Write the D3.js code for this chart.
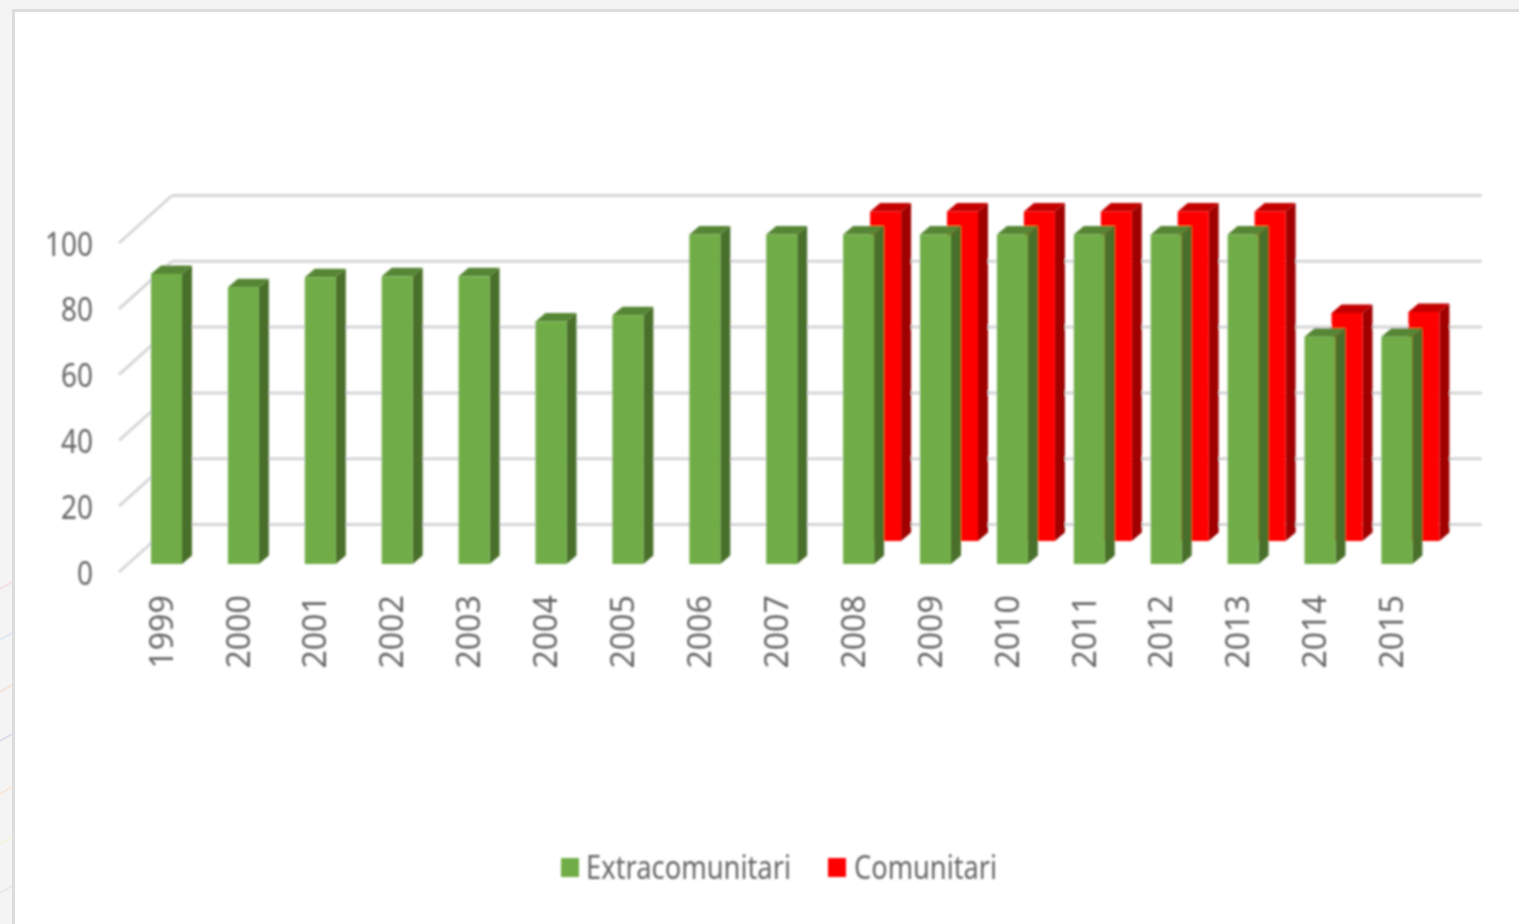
<!DOCTYPE html>
<html>
<head>
<meta charset="utf-8">
<title>Extracomunitari / Comunitari</title>
<script src="https://cdn.jsdelivr.net/npm/d3@7"></script>
<style>
  body { margin: 0; background: #fff; overflow: hidden; }
  svg { display: block; }
  text { font-family: "Noto Sans", sans-serif; fill: #666; }
</style>
</head>
<body>
<div id="chart"></div>
<script>
const years = ["1999","2000","2001","2002","2003","2004","2005","2006","2007","2008","2009","2010","2011","2012","2013","2014","2015"];
const extracomunitari = [88, 84, 87, 87.3, 87.3, 73.6, 75.5, 100, 100, 100, 100, 100, 100, 100, 100, 69, 69];
const comunitari = [null, null, null, null, null, null, null, null, null, 100, 100, 100, 100, 100, 100, 69.2, 69.5];
const yTicks = [0, 20, 40, 60, 80, 100];
const seriesNames = ["Extracomunitari", "Comunitari"];

const width = 1519, height = 924;

const svg = d3.select("#chart").append("svg")
  .attr("width", width)
  .attr("height", height);

const defs = svg.append("defs");
defs.append("filter").attr("id", "soft")
  .append("feGaussianBlur").attr("stdDeviation", 0.9);

// window frame behind the chart
svg.append("rect").attr("width", width).attr("height", height).attr("fill", "#f4f4f4");
svg.append("rect").attr("x", 12).attr("y", 9).attr("width", width).attr("height", height).attr("fill", "#dcdcdc");
svg.append("rect").attr("x", 15).attr("y", 12).attr("width", width).attr("height", height).attr("fill", "#fff");

// faint lines of the page showing left of the frame
const ghostLines = [
  { y: 585, c: "#f3dde6" }, { y: 636, c: "#dde8f3" }, { y: 688, c: "#f5e2da" },
  { y: 737, c: "#dedcec" }, { y: 790, c: "#f6e6dc" }, { y: 840, c: "#f5f2dc" }, { y: 889, c: "#e4e8ea" }
];
svg.append("g").selectAll("line").data(ghostLines).enter().append("line")
  .attr("x1", 0).attr("x2", 12)
  .attr("y1", d => d.y + 4).attr("y2", d => d.y - 3)
  .attr("stroke", d => d.c).attr("stroke-width", 2);

const chart = svg.append("g").attr("filter", "url(#soft)");

const x = d3.scaleBand().domain(years).range([151, 1412.4]).paddingInner(0.597).paddingOuter(0);

// value scales for each plane of the fake 3d box
const yFront = d3.scaleLinear().domain([0, 100]).range([564, 234.5]);
const yRed = d3.scaleLinear().domain([0, 100]).range([541, 211.5]);
const yWallLeft = d3.scaleLinear().domain([0, 100]).range([572, 243]);
const yWallBack = d3.scaleLinear().domain([0, 100]).range([524.5, 195.5]);

const wallLeftX = 119, wallBackX = 172, wallEndX = 1482;
const redShift = 27;
const depthX = 10, depthY = 8.5;

chart.append("g").selectAll("line").data(yTicks).enter().append("line")
  .attr("x1", wallBackX).attr("x2", wallEndX)
  .attr("y1", d => yWallBack(d)).attr("y2", d => yWallBack(d))
  .attr("stroke", "#d6d6d6").attr("stroke-width", 3);

chart.append("g").selectAll("line").data(yTicks).enter().append("line")
  .attr("x1", wallLeftX).attr("x2", wallBackX)
  .attr("y1", d => yWallLeft(d)).attr("y2", d => yWallBack(d))
  .attr("stroke", "#d6d6d6").attr("stroke-width", 3);

function drawBars(values, yScale, dx, colors) {
  const rows = years.map((year, i) => ({ year, value: values[i] })).filter(d => d.value !== null);
  const bw = x.bandwidth();
  const g = chart.append("g").selectAll("g").data(rows).enter().append("g");
  const left = d => x(d.year) + dx;
  const top = d => yScale(d.value);
  const base = yScale(0);

  g.append("path") // side
    .attr("d", d => `M${left(d) + bw},${top(d)}L${left(d) + bw + depthX},${top(d) - depthY}L${left(d) + bw + depthX},${base - depthY}L${left(d) + bw},${base}Z`)
    .attr("fill", colors.side);
  g.append("path") // top
    .attr("d", d => `M${left(d)},${top(d)}L${left(d) + depthX},${top(d) - depthY}L${left(d) + bw + depthX},${top(d) - depthY}L${left(d) + bw},${top(d)}Z`)
    .attr("fill", colors.top);
  g.append("rect") // front
    .attr("x", left)
    .attr("y", top)
    .attr("width", bw)
    .attr("height", d => base - top(d))
    .attr("fill", colors.front);
}

const redColors = { front: "#ff0000", side: "#a00000", top: "#c40000" };
const greenColors = { front: "#70ad47", side: "#4a7029", top: "#578636" };

drawBars(comunitari, yRed, redShift, redColors);
drawBars(extracomunitari, yFront, 0, greenColors);

// y axis
const yAxis = chart.append("g")
  .attr("transform", "translate(" + wallLeftX + ",0)")
  .call(d3.axisLeft(yWallLeft).tickValues(yTicks).tickSize(0).tickPadding(26));
yAxis.select(".domain").remove();
yAxis.selectAll("text")
  .style("font-family", '"Noto Sans", sans-serif')
  .style("font-size", "32px")
  .attr("dy", "12px")
  .attr("textLength", d => String(d).length * 16)
  .attr("lengthAdjust", "spacingAndGlyphs");

// x axis, years read upwards
const xAxis = chart.append("g")
  .attr("transform", "translate(0,564)")
  .call(d3.axisBottom(x).tickSize(0));
xAxis.select(".domain").remove();
xAxis.selectAll("text")
  .style("font-family", '"Noto Sans", sans-serif')
  .style("font-size", "32px")
  .attr("transform", "rotate(-90)")
  .attr("text-anchor", "start")
  .attr("x", -104.5)
  .attr("y", -5)
  .attr("dy", "0.35em");

// legend
const legendItems = [
  { name: seriesNames[0], color: greenColors.front, swatch: 561, label: 586, len: 205 },
  { name: seriesNames[1], color: redColors.front, swatch: 828, label: 854, len: 143 }
];
const legend = chart.append("g").selectAll("g").data(legendItems).enter().append("g");
legend.append("rect")
  .attr("x", d => d.swatch).attr("y", 858)
  .attr("width", 18).attr("height", 19)
  .attr("fill", d => d.color);
legend.append("text")
  .attr("x", d => d.label).attr("y", 879)
  .attr("textLength", d => d.len)
  .attr("lengthAdjust", "spacingAndGlyphs")
  .style("font-size", "32px")
  .text(d => d.name);
</script>
</body>
</html>
